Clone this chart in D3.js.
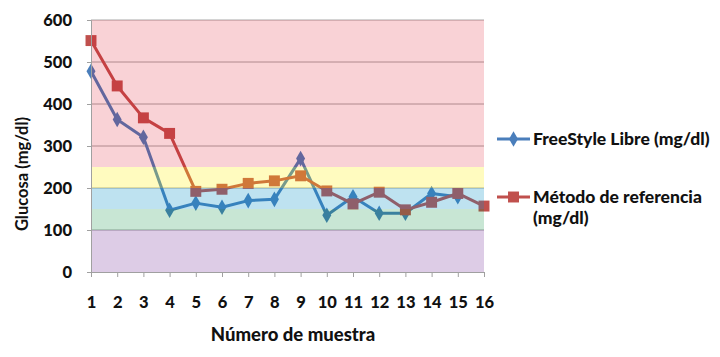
<!DOCTYPE html>
<html><head><meta charset="utf-8">
<script src="https://cdn.jsdelivr.net/npm/d3@7"></script>
<style>body{margin:0;background:#fff}svg{display:block}</style>
</head><body><svg id="c" width="720" height="357"></svg>
<script>
const categories = [1,2,3,4,5,6,7,8,9,10,11,12,13,14,15,16];
const freestyle = [478,363,321,147,164,154,170,173,270,135,179,140,140,187,179,null];
const referencia = [551,443,367,330,192,197,211,217,229,193,162,190,148,166,187,157];
const yTicks = [0,100,200,300,400,500,600];
const bands = [
  {from:0, to:100, color:"rgb(85,0,130)", a:0.2},
  {from:100, to:150, color:"rgb(0,139,56)", a:0.216},
  {from:150, to:200, color:"rgb(0,141,196)", a:0.255},
  {from:200, to:250, color:"rgb(255,240,0)", a:0.25},
  {from:250, to:600, color:"rgb(221,0,22)", a:0.176}
];
const seriesNames = ["FreeStyle Libre (mg/dl)", "Método de referencia"];
const blue = "#4a7ebb", red = "#c0504d";

const svg = d3.select("#c");
const x = d3.scalePoint().domain(categories).range([91, 484]);
const y = d3.scaleLinear().domain([0,600]).range([272, 20]);
const font = "Lato, 'Open Sans', sans-serif";

// gridlines
svg.append("g").selectAll("line").data(yTicks.filter(d=>d>0)).join("line")
  .attr("x1",91).attr("x2",484).attr("y1",d=>y(d)).attr("y2",d=>y(d))
  .attr("stroke","#a8a8a8").attr("stroke-width",1);

function drawSeries(vals, color, shape, size){
  const pts = categories.map((c,i)=>({c, v:vals[i]}));
  const line = d3.line().defined(d=>d.v!=null).x(d=>x(d.c)).y(d=>y(d.v));
  svg.append("path").datum(pts).attr("d",line).attr("fill","none")
    .attr("stroke",color).attr("stroke-width",3).attr("stroke-linejoin","round");
  svg.append("g").selectAll("path").data(pts.filter(d=>d.v!=null)).join("path")
    .attr("d", d3.symbol().type(shape).size(size))
    .attr("transform", d=>`translate(${x(d.c)},${y(d.v)})`)
    .attr("fill",color);
}
drawSeries(freestyle, blue, d3.symbolDiamond, 70);
drawSeries(referencia, red, d3.symbolSquare, 120);

// colored bands overlay
svg.append("g").selectAll("rect").data(bands).join("rect")
  .attr("x",91).attr("width",484-91)
  .attr("y",d=>y(d.to)).attr("height",d=>y(d.from)-y(d.to))
  .attr("fill",d=>d.color).attr("fill-opacity",d=>d.a);

// axes
const yAxis = svg.append("g").attr("transform","translate(91,0)")
  .call(d3.axisLeft(y).tickValues(yTicks).tickSize(4).tickPadding(15));
yAxis.select(".domain").attr("stroke","#a0a0a0");
yAxis.selectAll(".tick line").attr("stroke","#a0a0a0");
yAxis.selectAll("text").attr("font-family",font).attr("font-weight","900")
  .attr("font-size",16.5).attr("fill","#111");

const xAxis = svg.append("g").attr("transform","translate(0,272)")
  .call(d3.axisBottom(x).tickSize(5).tickPadding(19));
xAxis.select(".domain").attr("stroke","#a0a0a0");
xAxis.selectAll(".tick line").attr("stroke","#a0a0a0");
xAxis.selectAll("text").attr("font-family",font).attr("font-weight","900")
  .attr("font-size",16.5).attr("fill","#111");

svg.append("text").attr("x",293).attr("y",341).attr("text-anchor","middle")
  .attr("font-family",font).attr("font-weight","900").attr("font-size",18.5)
  .attr("fill","#111").text("Número de muestra");
svg.append("text").attr("transform","translate(28,174) rotate(-90)")
  .attr("text-anchor","middle").attr("font-family",font).attr("font-weight","bold")
  .attr("font-size",16.5).attr("fill","#111").text("Glucosa (mg/dl)");

// legend
const lg = svg.append("g");
function legendItem(yy, color, shape, size, lines){
  lg.append("line").attr("x1",497).attr("x2",530).attr("y1",yy).attr("y2",yy)
    .attr("stroke",color).attr("stroke-width",3);
  lg.append("path").attr("d",d3.symbol().type(shape).size(size)())
    .attr("transform",`translate(513.5,${yy})`).attr("fill",color);
  const t = lg.append("text").attr("x",533).attr("y",yy+6)
    .attr("font-family",font).attr("font-weight","900").attr("font-size",17.5).attr("fill","#111");
  lines.forEach((s,i)=>t.append("tspan").attr("x",533).attr("dy",i?21:0).text(s));
}
legendItem(139, blue, d3.symbolDiamond, 70, [seriesNames[0]]);
legendItem(197, red, d3.symbolSquare, 120, [seriesNames[1], "(mg/dl)"]);
</script></body></html>
